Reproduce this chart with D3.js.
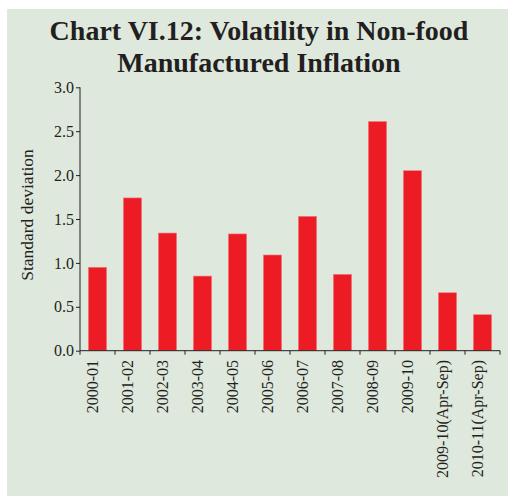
<!DOCTYPE html>
<html><head><meta charset="utf-8">
<script src="https://cdn.jsdelivr.net/npm/d3@7"></script>
<style>body{margin:0;background:#fff;} text{font-family:"Liberation Serif","Times New Roman",serif;}</style>
</head><body><svg id="chart" width="509" height="496"></svg>
<script>
const categories = ["2000-01","2001-02","2002-03","2003-04","2004-05","2005-06","2006-07","2007-08","2008-09","2009-10","2009-10(Apr-Sep)","2010-11(Apr-Sep)"];
const values = [0.95,1.74,1.34,0.85,1.33,1.09,1.53,0.87,2.61,2.05,0.66,0.41];
const yTicks = [0,0.5,1.0,1.5,2.0,2.5,3.0];
const titleLines = ["Chart VI.12: Volatility in Non-food","Manufactured Inflation"];
const yLabel = "Standard deviation";

const svg = d3.select("#chart");
svg.append("rect").attr("x",7).attr("y",9).attr("width",501).attr("height",487).attr("fill","#dfe8dc");

titleLines.forEach((t,i)=>{
  svg.append("text").attr("x",259).attr("y",39.5+i*32.3).attr("text-anchor","middle")
    .attr("font-size",28).attr("font-weight","bold").attr("fill","#231f20").text(t);
});

const x = d3.scaleBand().domain(categories).range([80,500]).paddingInner(0.48).paddingOuter(0.24);
const y = d3.scaleLinear().domain([0,3]).range([350.7,87.3]);
const step = x.step();

svg.append("g").selectAll("rect").data(values).join("rect")
  .attr("x",(d,i)=>x(categories[i])).attr("width",x.bandwidth())
  .attr("y",d=>y(d)).attr("height",d=>y(0)-y(d))
  .attr("fill","#ed1c24").attr("stroke","#f07a7e").attr("stroke-width",0.6);

const yAxis = svg.append("g").attr("transform","translate(80,0)")
  .call(d3.axisLeft(y).tickValues(yTicks).tickFormat(d3.format(".1f")).tickSize(4).tickPadding(2));
yAxis.select(".domain").attr("stroke","#231f20").attr("d","M0,"+y(3)+"V"+y(0));
yAxis.selectAll("line").attr("stroke","#231f20");
yAxis.selectAll("text").attr("font-size",16).attr("fill","#231f20").attr("font-family","Liberation Serif");

// x axis
const bounds = [x(categories[0]) + x.bandwidth()/2 - step/2].concat(categories.map(c=>x(c)+x.bandwidth()/2+step/2));
const xg = svg.append("g");
xg.append("line").attr("x1",80).attr("x2",500).attr("y1",y(0)).attr("y2",y(0)).attr("stroke","#231f20");
xg.selectAll("line.t").data(bounds).join("line").attr("class","t")
  .attr("x1",d=>d).attr("x2",d=>d).attr("y1",y(0)).attr("y2",y(0)+4).attr("stroke","#231f20");
xg.selectAll("text").data(categories).join("text")
  .attr("transform",d=>`translate(${x(d)+x.bandwidth()/2+0.5},360) rotate(-90)`)
  .attr("text-anchor","end").attr("font-size",16).attr("fill","#231f20").text(d=>d);

svg.append("text").attr("transform","translate(33,215) rotate(-90)").attr("text-anchor","middle")
  .attr("font-size",17.5).attr("fill","#231f20").text(yLabel);
</script></body></html>
